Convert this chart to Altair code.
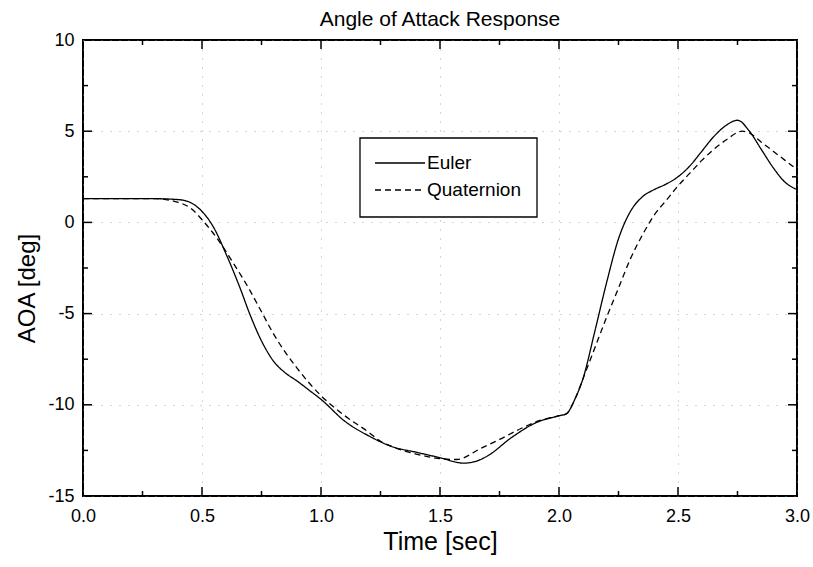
import altair as alt
import pandas as pd

# ---- data ----
SERIES = ["Euler", "Quaternion"]

EULER_T = [0.0, 0.3, 0.4, 0.45, 0.5, 0.55, 0.6, 0.66, 0.7, 0.75, 0.8, 0.85, 0.9, 0.95,
           1.0, 1.1, 1.2, 1.3, 1.4, 1.5, 1.6, 1.65, 1.7, 1.8, 1.9, 2.0, 2.03, 2.07, 2.1,
           2.15, 2.2, 2.25, 2.3, 2.35, 2.4, 2.45, 2.5, 2.55, 2.6, 2.65, 2.7, 2.75, 2.8,
           2.85, 2.9, 2.95, 3.0]
EULER_V = [1.3, 1.3, 1.25, 1.1, 0.6, -0.3, -1.7, -3.6, -5.0, -6.5, -7.6, -8.25, -8.7, -9.2,
           -9.7, -10.9, -11.7, -12.3, -12.6, -12.9, -13.2, -13.1, -12.8, -11.8, -11.0, -10.6,
           -10.5, -9.6, -8.6, -6.0, -3.3, -0.9, 0.6, 1.4, 1.8, 2.1, 2.5, 3.1, 3.9, 4.7, 5.3,
           5.6, 5.0, 4.0, 3.0, 2.2, 1.8]

QUAT_T = [0.0, 0.3, 0.4, 0.45, 0.51, 0.57, 0.63, 0.7, 0.75, 0.8, 0.9, 1.0, 1.1, 1.2, 1.25,
          1.3, 1.4, 1.5, 1.57, 1.67, 1.75, 1.84, 1.91, 2.0, 2.03, 2.07, 2.1, 2.15, 2.2, 2.25,
          2.3, 2.35, 2.4, 2.45, 2.5, 2.55, 2.6, 2.65, 2.7, 2.77, 2.8, 2.85, 2.9, 2.95, 3.0]
QUAT_V = [1.3, 1.3, 1.1, 0.8, 0.0, -1.0, -2.2, -3.7, -4.9, -6.1, -8.0, -9.5, -10.6, -11.5,
          -12.0, -12.3, -12.7, -12.95, -13.0, -12.4, -11.9, -11.3, -10.9, -10.6, -10.5, -9.6,
          -8.6, -6.9, -5.2, -3.6, -2.0, -0.7, 0.4, 1.2, 2.0, 2.7, 3.4, 4.0, 4.5, 5.0, 4.9,
          4.4, 3.9, 3.4, 2.9]

X_MAJOR = [0.0, 0.5, 1.0, 1.5, 2.0, 2.5, 3.0]
X_MINOR = [0.25, 0.75, 1.25, 1.75, 2.25, 2.75]
Y_MAJOR = [-15, -10, -5, 0, 5, 10]
Y_MINOR = [-12.5, -7.5, -2.5, 2.5, 7.5]

W, H = 714, 456
FONT = "Liberation Sans"

df = pd.concat([
    pd.DataFrame({"t": EULER_T, "v": EULER_V, "series": SERIES[0]}),
    pd.DataFrame({"t": QUAT_T, "v": QUAT_V, "series": SERIES[1]}),
])

xscale = alt.Scale(domain=[0, 3], nice=False, zero=False)
yscale = alt.Scale(domain=[-15, 10], nice=False, zero=False)

xaxis = alt.Axis(title="Time [sec]", values=X_MAJOR, format=".1f", ticks=False,
                 domain=False, labelPadding=11, labelFlush=False, titleY=45,
                 titleBaseline="middle", titleFontSize=25,
                 gridDash=[1, 8], gridColor="#888", gridOpacity=0.7)
yaxis = alt.Axis(title="AOA [deg]", values=Y_MAJOR, ticks=False,
                 labelExpr="'' + datum.value",
                 domain=False, labelPadding=9, labelFlush=False, titleX=-56, titleY=248,
                 titleAngle=270, titleBaseline="middle", titleAlign="center", titleFontSize=24,
                 gridDash=[1, 8], gridColor="#888", gridOpacity=0.7)

X = alt.X("t:Q", scale=xscale, axis=xaxis, title="Time [sec]")
Y = alt.Y("v:Q", scale=yscale, axis=yaxis, title="AOA [deg]")

lines = alt.Chart(df).mark_line(color="black", strokeWidth=1.3, interpolate="monotone").encode(
    x=X, y=Y,
    strokeDash=alt.StrokeDash("series:N", scale=alt.Scale(domain=SERIES, range=[[1, 0], [6, 4]]),
                              legend=None),
    detail="series:N",
)

xmaj = pd.DataFrame({"t": X_MAJOR[1:-1]})
xmin = pd.DataFrame({"t": X_MINOR})
ymaj = pd.DataFrame({"v": Y_MAJOR[1:-1]})
ymin = pd.DataFrame({"v": Y_MINOR})

def xticks(d, length):
    bot = alt.Chart(d).mark_rule(color="black", strokeWidth=1.5).encode(
        x=X, y=alt.value(H), y2=alt.value(H - length))
    top = alt.Chart(d).mark_rule(color="black", strokeWidth=1.5).encode(
        x=X, y=alt.value(0), y2=alt.value(length))
    return [bot, top]

def yticks(d, length):
    left = alt.Chart(d).mark_rule(color="black", strokeWidth=1.5).encode(
        y=Y, x=alt.value(0), x2=alt.value(length))
    right = alt.Chart(d).mark_rule(color="black", strokeWidth=1.5).encode(
        y=Y, x=alt.value(W), x2=alt.value(W - length))
    return [left, right]

one = pd.DataFrame({"series": SERIES})
box = alt.Chart(one.head(1)).mark_rect(fill="white", stroke="black", strokeWidth=1.3).encode(
    x=alt.value(277), x2=alt.value(454), y=alt.value(98), y2=alt.value(177))

leg_layers = []
for i, (name, dash, yy) in enumerate([(SERIES[0], [1, 0], 123), (SERIES[1], [6, 4], 150)]):
    d = one.iloc[[i]]
    leg_layers.append(alt.Chart(d).mark_rule(color="black", strokeWidth=1.3, strokeDash=dash).encode(
        x=alt.value(292), x2=alt.value(342), y=alt.value(yy)))
    leg_layers.append(alt.Chart(d).mark_text(align="left", baseline="middle", font=FONT,
                                             fontSize=19, color="black").encode(
        x=alt.value(344), y=alt.value(yy), text="series:N"))

chart = alt.layer(
    lines, *xticks(xmaj, 9), *xticks(xmin, 5), *yticks(ymaj, 9), *yticks(ymin, 5),
    box, *leg_layers,
).properties(
    width=W, height=H,
    title=alt.TitleParams("Angle of Attack Response", font=FONT, fontSize=21,
                          fontWeight="normal", color="black", offset=13, anchor="middle",
                          frame="group", baseline="alphabetic", dy=29),
    padding={"left": 83, "top": 40, "right": 16, "bottom": 71},
    autosize="none",
    background="white",
).configure_view(
    stroke="black", strokeWidth=2
).configure_axis(
    labelFont=FONT, labelFontSize=18, labelColor="black",
    titleFont=FONT, titleFontWeight="normal", titleColor="black",
)

chart.save("out.html", embed_options={"renderer": "svg", "actions": False})
